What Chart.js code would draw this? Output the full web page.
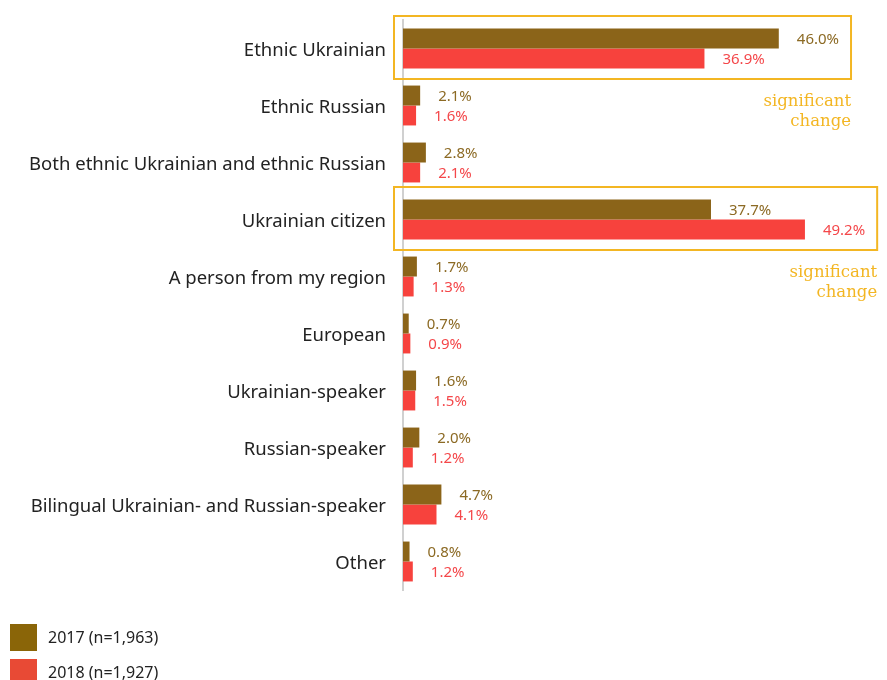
<!DOCTYPE html>
<html>
<head>
<meta charset="utf-8">
<script src="https://cdn.jsdelivr.net/npm/chart.js@4/dist/chart.umd.min.js"></script>
<style>
  html, body { margin: 0; padding: 0; background: #fff; }
  #wrap { width: 887px; height: 680px; position: relative; }
</style>
</head>
<body>
<div id="wrap"><canvas id="c" width="887" height="680"></canvas></div>
<script>
const categories = [
  'Ethnic Ukrainian',
  'Ethnic Russian',
  'Both ethnic Ukrainian and ethnic Russian',
  'Ukrainian citizen',
  'A person from my region',
  'European',
  'Ukrainian-speaker',
  'Russian-speaker',
  'Bilingual Ukrainian- and Russian-speaker',
  'Other'
];
const values2017 = [46.0, 2.1, 2.8, 37.7, 1.7, 0.7, 1.6, 2.0, 4.7, 0.8];
const values2018 = [36.9, 1.6, 2.1, 49.2, 1.3, 0.9, 1.5, 1.2, 4.1, 1.2];
const seriesLabels = ['2017 (n=1,963)', '2018 (n=1,927)'];
const significant = ['Ethnic Ukrainian', 'Ukrainian citizen'];
const noteLines = ['significant', 'change'];

const barColors = ['#8b6419', '#f7423d'];
const legendColors = ['#8a6508', '#e84a35'];
const valueColors = ['#8c6a24', '#f4474a'];
const noteColor = '#f3b623';
const FONT = '"Noto Sans", "Open Sans", sans-serif';

// value labels at the end of each bar
const valueLabels = {
  id: 'valueLabels',
  afterDatasetsDraw(chart) {
    const ctx = chart.ctx;
    ctx.save();
    ctx.font = '15px ' + FONT;
    ctx.textBaseline = 'middle';
    ctx.textAlign = 'left';
    chart.data.datasets.forEach((ds, di) => {
      const meta = chart.getDatasetMeta(di);
      meta.data.forEach((bar, i) => {
        ctx.fillStyle = valueColors[di];
        ctx.fillText(ds.data[i].toFixed(1) + '%', bar.x + 18, bar.y + 1);
      });
    });
    ctx.restore();
  }
};

// framed rows with a "significant change" note
const significanceFrames = {
  id: 'significanceFrames',
  afterDatasetsDraw(chart) {
    const ctx = chart.ctx;
    const y = chart.scales.y;
    const area = chart.chartArea;
    const half = (y.getPixelForValue(1) - y.getPixelForValue(0)) / 2;
    ctx.save();
    ctx.font = '15px ' + FONT;
    significant.forEach(name => {
      const i = categories.indexOf(name);
      const cy = y.getPixelForValue(i);
      let right = 0;
      chart.data.datasets.forEach((ds, di) => {
        const bar = chart.getDatasetMeta(di).data[i];
        const w = ctx.measureText(ds.data[i].toFixed(1) + '%').width;
        right = Math.max(right, bar.x + 18 + w);
      });
      right += 12;
      const top = cy - half - 4;
      const bottom = cy + half + 2;
      const left = area.left - 9;
      ctx.strokeStyle = noteColor;
      ctx.lineWidth = 2;
      ctx.strokeRect(left, top, right - left, bottom - top);
      ctx.save();
      ctx.fillStyle = noteColor;
      ctx.font = '16.5px "DejaVu Serif", serif';
      ctx.textAlign = 'right';
      ctx.textBaseline = 'middle';
      noteLines.forEach((t, k) => ctx.fillText(t, right, bottom + 23 + k * 20));
      ctx.restore();
    });
    ctx.restore();
  }
};

// stacked legend in the lower left corner
const stackedLegend = {
  id: 'stackedLegend',
  afterDraw(chart) {
    const ctx = chart.ctx;
    ctx.save();
    ctx.font = '16px ' + FONT;
    ctx.textBaseline = 'middle';
    ctx.textAlign = 'left';
    chart.data.datasets.forEach((ds, di) => {
      const top = 624 + di * 35;
      ctx.fillStyle = legendColors[di];
      ctx.fillRect(10, top, 27, 27);
      ctx.fillStyle = '#222';
      ctx.fillText(ds.label, 48, top + 14);
    });
    ctx.restore();
  }
};

new Chart(document.getElementById('c'), {
  type: 'bar',
  data: {
    labels: categories,
    datasets: [
      { label: seriesLabels[0], data: values2017, backgroundColor: barColors[0] },
      { label: seriesLabels[1], data: values2018, backgroundColor: barColors[1] }
    ]
  },
  options: {
    indexAxis: 'y',
    responsive: false,
    animation: false,
    layout: { padding: { top: 20, right: 2, bottom: 90, left: 0 } },
    datasets: { bar: { categoryPercentage: 0.7, barPercentage: 1.0 } },
    plugins: {
      legend: { display: false },
      tooltip: { enabled: false }
    },
    scales: {
      x: {
        display: false,
        min: 0,
        max: 59
      },
      y: {
        afterFit(scale) {
          scale.width = 403;
          scale.paddingTop = 0;
          scale.paddingBottom = 0;
        },
        grid: { display: false, drawTicks: false },
        border: { display: true, color: '#d0d0d0', width: 2 },
        ticks: {
          padding: 17,
          labelOffset: 2,
          color: '#222',
          font: { family: FONT, size: 18.5 }
        }
      }
    }
  },
  plugins: [valueLabels, significanceFrames, stackedLegend]
});
</script>
</body>
</html>
